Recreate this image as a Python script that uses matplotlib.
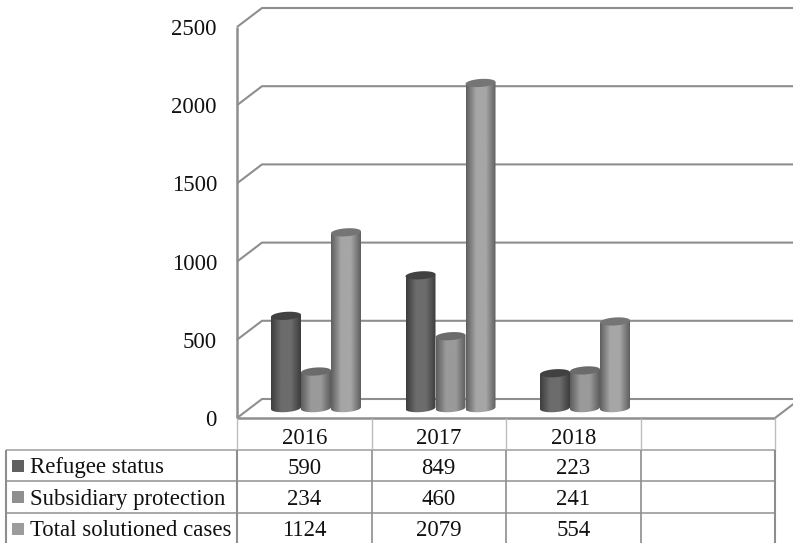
import numpy as np
import matplotlib
matplotlib.use('Agg')
import matplotlib.pyplot as plt
from matplotlib.colors import LinearSegmentedColormap
from matplotlib.patches import Polygon, Rectangle

plt.rcParams['font.family'] = ['Liberation Serif', 'DejaVu Serif']

years = ['2016', '2017', '2018']
series_names = ['Refugee status', 'Subsidiary protection', 'Total solutioned cases']
refugee = [590, 849, 223]
subsidiary = [234, 460, 241]
total = [1124, 2079, 554]
y_ticks = [0, 500, 1000, 1500, 2000, 2500]

W, H = 793, 543
CAT_W = 134.5      # pixels per category
PER_UNIT = 0.1564  # pixels per case
X0, Y0 = 237, 418  # front corner of the floor
DX, DY = 25, 19    # depth of the box
BAR_W = 30 / CAT_W
LINE = '#8e8e8e'
TXT = '#111111'
FS = 16.4

fig = plt.figure(figsize=(W / 100, H / 100), dpi=100)
ax = fig.add_axes([0, 0, 1, 1])
ax.set_xlim(-X0 / CAT_W, (W - X0) / CAT_W)
ax.set_ylim((Y0 - H) / PER_UNIT, Y0 / PER_UNIT)
ax.axis('off')

depth_x = DX / CAT_W
depth_y = DY / PER_UNIT
text_drop = 2.5 / PER_UNIT  # glyph centre sits above the line box centre

def seg(x, y, lw=1.5, c=LINE, z=1):
    ax.plot(x, y, color=c, lw=lw, solid_capstyle='butt', zorder=z)

# box: back wall gridlines and the diagonals that run to the front axis
right = (W - X0) / CAT_W
for t in y_ticks:
    seg([0, depth_x, right], [t, t + depth_y, t + depth_y])
    ax.text(-20 / CAT_W, t - text_drop, str(t), ha='right', va='center', fontsize=FS, color=TXT)
seg([0, 0], [0, 2500], lw=1.8)
seg([0, 4], [0, 0], lw=1.8)
seg([4, 4 + depth_x], [0, depth_y])

def cylinder(cx, value, dark, mid, top, z):
    half = BAR_W / 2
    base = depth_y * 0.52
    b = 4 / PER_UNIT
    tilt = 1 / PER_UNIT
    t = np.linspace(0, np.pi, 40)
    # outline: top edge of the side wall follows the near half of the cap
    xs = np.concatenate([cx - half * np.cos(t), cx + half * np.cos(t)])
    ys = np.concatenate([value + base - tilt * np.cos(t),
                         base - b * np.sin(t) + tilt * np.cos(t)])
    body = Polygon(np.column_stack([xs, ys]), closed=True, fc='none', ec='none', zorder=z)
    ax.add_patch(body)
    cmap = LinearSegmentedColormap.from_list('c', [dark, mid, mid, dark])
    grad = np.linspace(0, 1, 64).reshape(1, -1)
    im = ax.imshow(grad, cmap=cmap, aspect='auto', zorder=z,
                   extent=[cx - half, cx + half, base - b - tilt, value + base + tilt])
    im.set_clip_path(body)
    tt = np.linspace(0, 2 * np.pi, 80)
    cap = np.column_stack([cx - half * np.cos(tt),
                           value + base + b * np.sin(tt) - tilt * np.cos(tt)])
    ax.add_patch(Polygon(cap, closed=True, fc=top, ec='none', zorder=z + 0.1))

styles = [('#3d3d3d', '#6c6c6c', '#414141'),
          ('#5e5e5e', '#9a9a9a', '#6b6b6b'),
          ('#5f5f5f', '#a6a6a6', '#757575')]
swatches = ['#606060', '#8f8f8f', '#9c9c9c']
group_x = np.arange(len(years)) + 79 / CAT_W

for j, vals in enumerate([refugee, subsidiary, total]):
    for i, v in enumerate(vals):
        cylinder(group_x[i] + (j - 1) * BAR_W, v, *styles[j], z=3 + j)

ax.set_xlim(-X0 / CAT_W, (W - X0) / CAT_W)
ax.set_ylim((Y0 - H) / PER_UNIT, Y0 / PER_UNIT)

# data table below the floor
def row_y(py):
    return (Y0 - py) / PER_UNIT

left = (5.5 - X0) / CAT_W
row_lines = [450, 481, 513]
for k, py in enumerate(row_lines):
    seg([left, 4], [row_y(py)] * 2, lw=1.2, c='#999999' if k else '#a5a5a5')
seg([left, left], [row_y(450), row_y(H)], lw=1.5)
for c in range(5):
    seg([c, c], [row_y(418), row_y(450)], lw=1, c='#bdbdbd')
    seg([c, c], [row_y(450), row_y(H)], lw=1.5 if c in (0, 4) else 1.2)

for i, yr in enumerate(years):
    ax.text(i + 0.5, row_y(436.5) - text_drop, yr, ha='center', va='center', fontsize=FS, color=TXT)

rows = [refugee, subsidiary, total]
label_y = [465.5, 497, 528.5]
for j, name in enumerate(series_names):
    ax.add_patch(Rectangle(((12 - X0) / CAT_W, row_y(label_y[j] + 6)),
                           12 / CAT_W, 12 / PER_UNIT, fc=swatches[j], ec='none'))
    ax.text((30 - X0) / CAT_W, row_y(label_y[j]) - text_drop, name, ha='left', va='center', fontsize=FS, color=TXT)
    for i, v in enumerate(rows[j]):
        ax.text(i + 0.5, row_y(label_y[j]) - text_drop, str(v), ha='center', va='center', fontsize=FS, color=TXT)

fig.savefig('out.png', dpi=100)
